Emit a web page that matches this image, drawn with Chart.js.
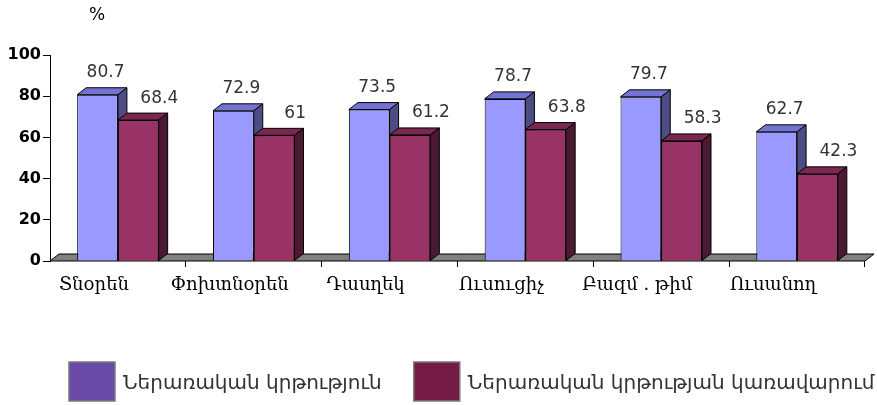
<!DOCTYPE html>
<html>
<head>
<meta charset="utf-8">
<script src="https://cdn.jsdelivr.net/npm/chart.js@4"></script>
<style>
  html, body { margin: 0; padding: 0; background: #ffffff; }
  #wrap { width: 877px; height: 405px; position: relative; }
</style>
</head>
<body>
<div id="wrap"><canvas id="c" width="877" height="405"></canvas></div>
<script>
// ---- data ----
const categories = ['Տնօրեն', 'Փոխտնօրեն', 'Դասղեկ', 'Ուսուցիչ', 'Բազմ . թիմ', 'Ուսանող'];
const seriesNames = ['Ներառական կրթություն', 'Ներառական կրթության կառավարում'];
const inclusiveEducation = [80.7, 72.9, 73.5, 78.7, 79.7, 62.7];
const inclusiveManagement = [68.4, 61, 61.2, 63.8, 58.3, 42.3];
const yTicks = [0, 20, 40, 60, 80, 100];
const unitLabel = '%';

// ---- styles ----
const frontColors = ['#9999ff', '#993366'];
const topColors = ['#7373d6', '#7a2850'];
const sideColors = ['#4d4d85', '#4a1a33'];
const legendColors = ['#6a4ba8', '#751c45'];
const DX = 9, DY = 7;

function poly(ctx, pts, fill) {
  ctx.beginPath();
  ctx.moveTo(pts[0][0], pts[0][1]);
  for (let i = 1; i < pts.length; i++) ctx.lineTo(pts[i][0], pts[i][1]);
  ctx.closePath();
  ctx.fillStyle = fill;
  ctx.fill();
  ctx.lineWidth = 1;
  ctx.strokeStyle = '#000';
  ctx.stroke();
}

const threeD = {
  id: 'threeD',
  beforeDatasetsDraw(chart) {
    const ctx = chart.ctx, a = chart.chartArea;
    ctx.save();
    poly(ctx, [[a.left, a.bottom], [a.left + DX, a.bottom - DY], [a.right + DX, a.bottom - DY], [a.right, a.bottom]], '#808080');
    ctx.restore();
  },
  afterDatasetsDraw(chart) {
    const ctx = chart.ctx;
    ctx.save();
    const n = categories.length;
    for (let i = 0; i < n; i++) {
      for (let d = 0; d < chart.data.datasets.length; d++) {
        const bar = chart.getDatasetMeta(d).data[i];
        if (!bar) continue;
        const p = bar.getProps(['x', 'y', 'base', 'width'], true);
        const l = p.x - p.width / 2, r = p.x + p.width / 2;
        if (d > 0) bar.draw(ctx);
        poly(ctx, [[l, p.y], [l + DX, p.y - DY], [r + DX, p.y - DY], [r, p.y]], topColors[d]);
        poly(ctx, [[r, p.y], [r + DX, p.y - DY], [r + DX, p.base - DY], [r, p.base]], sideColors[d]);
      }
    }
    // value labels
    ctx.font = '17px "DejaVu Sans"';
    ctx.fillStyle = '#333';
    ctx.textAlign = 'center';
    ctx.textBaseline = 'middle';
    const shift = [8, 21];
    chart.data.datasets.forEach((ds, d) => {
      chart.getDatasetMeta(d).data.forEach((bar, i) => {
        const p = bar.getProps(['x', 'y'], true);
        ctx.fillText(String(ds.data[i]), p.x + shift[d], p.y - 22);
      });
    });
    ctx.restore();
  },
  afterDraw(chart) {
    const ctx = chart.ctx;
    ctx.save();
    // unit label
    ctx.font = '17px "DejaVu Sans"';
    ctx.fillStyle = '#000';
    ctx.textAlign = 'center';
    ctx.textBaseline = 'middle';
    ctx.fillText(unitLabel, 97, 16);
    // legend
    ctx.font = '20px "DejaVu Sans"';
    ctx.textAlign = 'left';
    let x = 69;
    const y = 362, bw = 46, bh = 39;
    chart.data.datasets.forEach((ds, d) => {
      ctx.fillStyle = legendColors[d];
      ctx.fillRect(x, y, bw, bh);
      ctx.strokeStyle = '#7a7a7a';
      ctx.lineWidth = 1.5;
      ctx.strokeRect(x, y, bw, bh);
      ctx.fillStyle = '#333';
      ctx.fillText(ds.label, x + bw + 8, y + bh / 2 + 2);
      x += bw + 8 + ctx.measureText(ds.label).width + 32;
    });
    ctx.restore();
  }
};

new Chart(document.getElementById('c'), {
  type: 'bar',
  data: {
    labels: categories,
    datasets: [
      { label: seriesNames[0], data: inclusiveEducation, backgroundColor: frontColors[0], borderColor: '#000', borderWidth: 1 },
      { label: seriesNames[1], data: inclusiveManagement, backgroundColor: frontColors[1], borderColor: '#000', borderWidth: 1 }
    ]
  },
  options: {
    responsive: false,
    animation: false,
    devicePixelRatio: 1,
    layout: { padding: { left: 0, right: 12, top: 55, bottom: 0 } },
    plugins: { legend: { display: false }, tooltip: { enabled: false }, title: { display: false } },
    datasets: { bar: { categoryPercentage: 0.6, barPercentage: 1 } },
    scales: {
      x: {
        afterFit(s) { s.height = 144; },
        border: { display: false },
        grid: {
          display: true, drawOnChartArea: false, tickLength: 6, offset: true,
          color: (c) => (c.index === 0 || c.index === categories.length) ? 'rgba(0,0,0,0)' : '#000'
        },
        ticks: {
          autoSkip: false, maxRotation: 0, minRotation: 0, labelOffset: -24, padding: 8,
          color: '#000', font: { family: '"DejaVu Serif"', size: 18 }
        }
      },
      y: {
        min: 0, max: 100,
        afterFit(s) { s.width = 50; },
        afterBuildTicks(s) { s.ticks = yTicks.map(v => ({ value: v })); },
        border: { display: true, color: '#000', width: 1 },
        grid: { display: true, drawOnChartArea: false, tickLength: 7, color: '#000' },
        ticks: { padding: 2, color: '#000', font: { family: '"DejaVu Sans"', size: 16, weight: 'bold' } }
      }
    }
  },
  plugins: [threeD]
});
</script>
</body>
</html>
